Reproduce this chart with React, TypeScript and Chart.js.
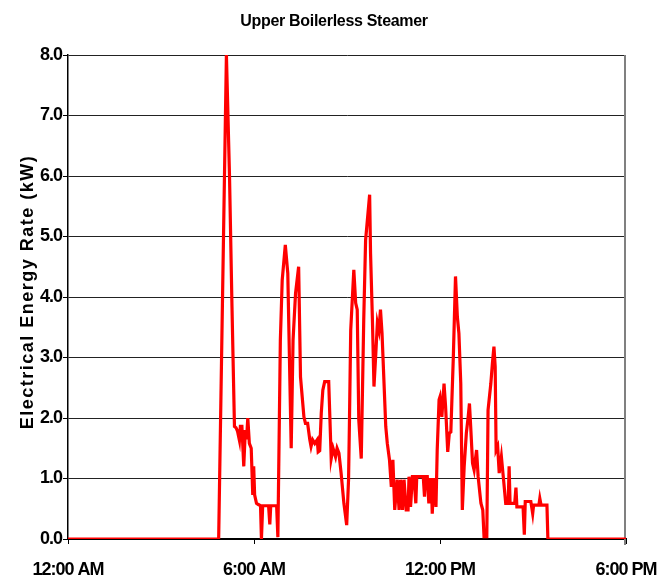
import React, { useEffect, useRef } from 'react';
import { Chart, registerables } from 'chart.js';

Chart.register(...registerables);

const TITLE = 'Upper Boilerless Steamer';
const Y_TITLE = 'Electrical Energy Rate (kW)';
const X_TICK_LABELS = ['12:00 AM', '6:00 AM', '12:00 PM', '6:00 PM'];

// time of day in hours
const HOURS = [
  0, 4.86, 5.11, 5.21, 5.29, 5.37, 5.42, 5.47, 5.53, 5.56, 5.61, 5.67, 5.72, 5.76, 5.8, 5.85, 5.91, 5.96, 5.99, 6.02,
  6.08, 6.14, 6.21, 6.24, 6.28, 6.47, 6.51, 6.54, 6.73, 6.77, 6.85, 6.91, 7.01, 7.09, 7.2, 7.26, 7.34, 7.44, 7.5, 7.61,
  7.66, 7.73, 7.8, 7.84, 7.89, 7.96, 8.04, 8.07, 8.12, 8.17, 8.22, 8.28, 8.41, 8.45, 8.49, 8.55, 8.63, 8.68, 8.74, 8.81,
  8.9, 8.99, 9.05, 9.08, 9.12, 9.22, 9.28, 9.33, 9.38, 9.46, 9.54, 9.6, 9.73, 9.76, 9.82, 9.87, 9.93, 9.98, 10.03, 10.08,
  10.13, 10.19, 10.25, 10.3, 10.37, 10.43, 10.48, 10.54, 10.62, 10.68, 10.73, 10.79, 10.84, 10.91, 10.97, 11.0, 11.05, 11.11, 11.16, 11.22,
  11.25, 11.46, 11.5, 11.53, 11.59, 11.64, 11.67, 11.72, 11.75, 11.8, 11.84, 11.87, 11.91, 11.97, 12.0, 12.06, 12.13, 12.18, 12.25, 12.3,
  12.35, 12.38, 12.43, 12.5, 12.56, 12.61, 12.67, 12.72, 12.78, 12.85, 12.91, 12.95, 12.99, 13.05, 13.1, 13.18, 13.23, 13.32, 13.38, 13.42,
  13.51, 13.55, 13.64, 13.69, 13.74, 13.78, 13.81, 13.86, 13.91, 13.98, 14.05, 14.12, 14.2, 14.23, 14.26, 14.41, 14.45, 14.48, 14.68, 14.72,
  14.75, 14.93, 14.99, 15.02, 15.19, 15.22, 15.26, 15.45, 15.48, 18,
];

// electrical energy rate in kW
const KW = [
  0, 0, 8.0, 6.0, 3.84, 1.86, 1.84, 1.78, 1.63, 1.86, 1.86, 1.2, 1.8, 1.65, 2.0, 1.58, 1.5, 0.73, 1.2, 0.73,
  0.59, 0.57, 0.55, 0, 0.55, 0.55, 0.24, 0.55, 0.55, 0.03, 3.29, 4.28, 4.86, 4.39, 1.5, 3.29, 4.06, 4.5, 2.68, 2.02,
  1.91, 1.91, 1.64, 1.53, 1.64, 1.58, 1.64, 1.44, 1.46, 2.08, 2.46, 2.6, 2.6, 1.97, 1.33, 1.5, 1.36, 1.5, 1.42, 1.09,
  0.59, 0.23, 0.98, 1.97, 3.45, 4.45, 3.9, 3.79, 1.97, 1.33, 3.62, 4.94, 5.69, 4.72, 3.62, 2.52, 3.07, 3.57, 3.45, 3.79,
  3.4, 2.63, 1.86, 1.58, 1.31, 0.86, 1.31, 0.48, 0.98, 0.48, 0.98, 0.48, 0.98, 0.48, 0.48, 1.03, 0.53, 1.03, 1.03, 0.59,
  1.03, 1.03, 0.7, 1.03, 1.03, 0.59, 0.98, 0.98, 0.42, 0.98, 0.98, 0.53, 1.47, 2.3, 2.35, 2.02, 2.57, 2.19, 1.44, 1.75,
  1.77, 2.24, 3.01, 4.34, 3.67, 3.4, 2.57, 0.48, 1.2, 1.75, 2.02, 2.24, 1.86, 1.25, 1.14, 1.47, 1.03, 0.59, 0.48, 0.04,
  0.04, 2.13, 2.57, 2.9, 3.18, 2.85, 1.47, 1.53, 1.09, 1.36, 0.98, 0.59, 0.59, 1.2, 0.59, 0.59, 0.85, 0.53, 0.53, 0.07,
  0.62, 0.62, 0.42, 0.56, 0.56, 0.67, 0.56, 0.56, 0, 0,
];

const FONT = '"Liberation Sans", Arial, sans-serif';

const extras = {
  id: 'extras',
  beforeDraw(chart: any) {
    chart.ctx.letterSpacing = '-1px';
  },
  beforeDatasetsDraw(chart: any) {
    const { ctx, chartArea: a } = chart;
    ctx.save();
    ctx.strokeStyle = '#808080';
    ctx.lineWidth = 2;
    ctx.beginPath();
    ctx.moveTo(a.right - 1, a.top);
    ctx.lineTo(a.right - 1, a.bottom + 6);
    ctx.stroke();
    ctx.restore();
  },
  afterDraw(chart: any) {
    const { ctx } = chart;
    ctx.save();
    ctx.fillStyle = '#000';
    ctx.letterSpacing = '-0.3px';
    ctx.font = `bold 16px ${FONT}`;
    ctx.textAlign = 'center';
    ctx.textBaseline = 'alphabetic';
    ctx.fillText(TITLE, 334, 26);
    ctx.translate(33, 292);
    ctx.rotate(-Math.PI / 2);
    ctx.letterSpacing = '1.5px';
    ctx.font = `bold 18px ${FONT}`;
    ctx.fillText(Y_TITLE, 0, 0);
    ctx.restore();
  },
};

export default function App() {
  const ref = useRef<HTMLCanvasElement>(null);
  useEffect(() => {
    if (!ref.current) return;
    const chart = new Chart(ref.current, {
      type: 'line',
      data: {
        datasets: [
          {
            data: HOURS.map((h, i) => ({ x: h, y: KW[i] })),
            borderColor: '#FF0000',
            borderWidth: 3.2,
            pointRadius: 0,
            tension: 0,
            fill: false,
          },
        ],
      },
      options: {
        animation: false,
        responsive: true,
        maintainAspectRatio: false,
        layout: { padding: { top: 55, right: 33, left: 0, bottom: 0 } },
        plugins: { legend: { display: false }, title: { display: false }, tooltip: { enabled: false } },
        scales: {
          x: {
            type: 'linear',
            min: 0,
            max: 18,
            afterFit: (s: any) => {
              s.height = 43;
              s.paddingLeft = 0;
              s.paddingRight = 0;
            },
            afterBuildTicks: (s: any) => {
              s.ticks = X_TICK_LABELS.map((_, i) => ({ value: i * 6 }));
            },
            ticks: {
              autoSkip: false,
              maxRotation: 0,
              padding: 15,
              color: '#000',
              font: { family: FONT, size: 18, weight: 'bold' },
              callback: (v: any) => X_TICK_LABELS[Math.round(Number(v) / 6)],
            },
            grid: { drawOnChartArea: false, drawTicks: true, tickLength: 5, color: '#000', tickColor: '#000' },
            border: { display: true, color: '#000', width: 2 },
          },
          y: {
            min: 0,
            max: 8,
            afterFit: (s: any) => {
              s.width = 68;
              s.paddingTop = 0;
              s.paddingBottom = 0;
            },
            ticks: {
              stepSize: 1,
              padding: 1,
              color: '#000',
              font: { family: FONT, size: 18, weight: 'bold' },
              callback: (v: any) => Number(v).toFixed(1),
            },
            grid: { color: '#222', lineWidth: 1, tickLength: 5, tickColor: '#000' },
            border: { display: true, color: '#000', width: 1.5 },
          },
        },
      },
      plugins: [extras],
    });
    return () => chart.destroy();
  }, []);
  return (
    <div style={{ position: 'fixed', left: 0, top: 0, width: 659, height: 582, background: '#fff' }}>
      <canvas ref={ref} />
    </div>
  );
}
